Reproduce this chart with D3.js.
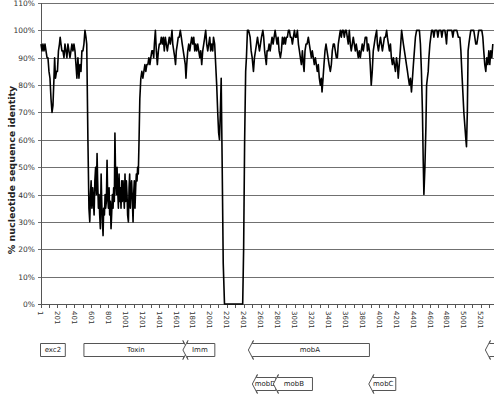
<!DOCTYPE html>
<html>
<head>
<meta charset="utf-8">
<script src="https://cdn.jsdelivr.net/npm/d3@7"></script>
<style>
  body { margin: 0; background: #fff; }
  text { font-family: "DejaVu Sans", Verdana, sans-serif; }
</style>
</head>
<body>
<div id="chart"></div>
<script>
// window position (nt) and % identity
const positions = [
  7, 19, 30, 42, 54, 66, 78, 89, 101, 113, 125, 137, 148, 160, 168, 178, 190, 201, 213, 225,
  233, 243, 254, 266, 278, 290, 302, 313, 325, 337, 349, 361, 372, 384, 396, 408, 420, 431, 443, 455,
  467, 479, 490, 502, 514, 526, 538, 547, 561, 573, 583, 591, 599, 608, 618, 626, 634, 643, 652, 661,
  669, 676, 685, 693, 700, 708, 717, 724, 732, 740, 747, 756, 764, 771, 779, 787, 794, 803, 811, 818,
  826, 834, 841, 850, 858, 865, 873, 880, 889, 897, 905, 912, 921, 929, 936, 944, 952, 960, 968, 976,
  983, 991, 999, 1007, 1015, 1023, 1030, 1039, 1047, 1054, 1062, 1070, 1077, 1086, 1094, 1101, 1109, 1117, 1125, 1133,
  1141, 1148, 1156, 1165, 1174, 1186, 1198, 1210, 1222, 1234, 1245, 1257, 1269, 1281, 1293, 1304, 1316, 1328, 1338, 1346,
  1358, 1369, 1381, 1393, 1404, 1416, 1428, 1440, 1452, 1463, 1475, 1487, 1499, 1510, 1522, 1534, 1546, 1554, 1563, 1575,
  1587, 1596, 1605, 1617, 1628, 1640, 1652, 1664, 1675, 1687, 1699, 1711, 1719, 1728, 1740, 1752, 1764, 1775, 1787, 1799,
  1811, 1823, 1834, 1846, 1858, 1870, 1882, 1893, 1905, 1917, 1929, 1941, 1952, 1964, 1976, 1988, 2000, 2011, 2023, 2035,
  2044, 2058, 2070, 2082, 2094, 2105, 2115, 2125, 2135, 2147, 2159, 2174, 2280, 2389, 2400, 2412, 2424, 2433, 2445, 2459,
  2477, 2489, 2501, 2516, 2528, 2540, 2552, 2564, 2575, 2587, 2599, 2611, 2627, 2637, 2648, 2658, 2668, 2677, 2689, 2701,
  2713, 2724, 2736, 2748, 2760, 2772, 2783, 2795, 2807, 2819, 2834, 2846, 2858, 2870, 2882, 2893, 2905, 2917, 2929, 2941,
  2952, 2964, 2976, 2988, 3000, 3011, 3023, 3035, 3047, 3059, 3070, 3082, 3094, 3106, 3114, 3125, 3137, 3149, 3164, 3176,
  3188, 3200, 3211, 3223, 3235, 3247, 3259, 3270, 3282, 3294, 3306, 3317, 3326, 3338, 3349, 3361, 3373, 3385, 3397, 3409,
  3424, 3436, 3447, 3459, 3471, 3483, 3495, 3507, 3518, 3530, 3542, 3554, 3565, 3577, 3589, 3601, 3613, 3624, 3636, 3648,
  3660, 3671, 3683, 3695, 3707, 3719, 3730, 3742, 3754, 3766, 3778, 3789, 3801, 3813, 3825, 3837, 3853, 3862, 3874, 3886,
  3895, 3907, 3919, 3931, 3943, 3955, 3971, 3980, 3992, 4004, 4016, 4027, 4039, 4051, 4063, 4075, 4089, 4098, 4110, 4122,
  4134, 4145, 4157, 4169, 4181, 4193, 4205, 4216, 4226, 4238, 4250, 4266, 4276, 4287, 4299, 4311, 4323, 4335, 4346, 4358,
  4370, 4382, 4394, 4405, 4417, 4429, 4443, 4459, 4476, 4488, 4500, 4512, 4521, 4529, 4541, 4553, 4561, 4570, 4580, 4588,
  4600, 4620, 4635, 4647, 4659, 4683, 4694, 4706, 4730, 4741, 4753, 4777, 4788, 4796, 4806, 4836, 4859, 4871, 4883, 4918,
  4936, 4954, 4966, 4977, 4989, 5001, 5013, 5025, 5032, 5042, 5051, 5060, 5071, 5083, 5118, 5130, 5142, 5154, 5166, 5177,
  5213, 5225, 5236, 5248, 5260, 5272, 5284, 5296, 5307, 5319, 5331, 5343
];
const identity = [
  95, 92.5, 95, 92.5, 95, 92.5, 90, 90, 85, 82.5, 75, 70, 72.5, 82.5, 90, 82.5, 85, 85, 92.5, 95,
  97.5, 95, 92.5, 92.5, 90, 95, 92.5, 90, 95, 92.5, 90, 92.5, 95, 92.5, 95, 92.5, 87.5, 82.5, 90, 82.5,
  87.5, 85, 92.5, 92.5, 95, 100, 97.5, 95, 60, 35, 30, 40, 45, 35, 42.5, 37.5, 32.5, 45, 50, 40,
  55, 45, 35, 40, 32.5, 27.5, 47.5, 37.5, 30, 25, 35, 32.5, 40, 35, 37.5, 52.5, 40, 35, 42.5, 32.5,
  37.5, 27.5, 32.5, 40, 35, 42.5, 37.5, 62.5, 45, 40, 50, 42.5, 35, 47.5, 37.5, 42.5, 35, 45, 37.5, 45,
  40, 35, 47.5, 37.5, 45, 40, 32.5, 30, 42.5, 47.5, 35, 42.5, 45, 37.5, 30, 40, 45, 35, 42.5, 47.5,
  45, 50, 47.5, 60, 75, 82.5, 85, 82.5, 85, 87.5, 85, 87.5, 87.5, 90, 87.5, 90, 92.5, 92.5, 90, 95,
  100, 92.5, 87.5, 92.5, 95, 95, 97.5, 95, 97.5, 92.5, 97.5, 95, 92.5, 95, 97.5, 95, 97.5, 100, 95, 92.5,
  90, 87.5, 92.5, 95, 97.5, 97.5, 100, 97.5, 95, 92.5, 90, 87.5, 82.5, 87.5, 92.5, 95, 92.5, 95, 97.5, 95,
  97.5, 92.5, 95, 92.5, 95, 92.5, 90, 92.5, 87.5, 92.5, 95, 97.5, 100, 95, 92.5, 95, 97.5, 92.5, 95, 92.5,
  97.5, 95, 87.5, 80, 70, 62.5, 60, 70, 82.5, 50, 15, 0, 0, 0, 20, 60, 85, 90, 100, 100,
  97.5, 92.5, 90, 85, 90, 92.5, 95, 97.5, 95, 92.5, 95, 97.5, 100, 97.5, 92.5, 90, 87.5, 92.5, 92.5, 95,
  92.5, 95, 97.5, 95, 97.5, 100, 97.5, 95, 97.5, 92.5, 90, 92.5, 97.5, 95, 97.5, 95, 97.5, 97.5, 100, 100,
  97.5, 97.5, 95, 97.5, 100, 97.5, 97.5, 100, 95, 92.5, 90, 87.5, 92.5, 87.5, 85, 92.5, 95, 95, 97.5, 95,
  92.5, 90, 92.5, 90, 87.5, 90, 87.5, 85, 87.5, 82.5, 80, 82.5, 77.5, 82.5, 87.5, 92.5, 95, 92.5, 90, 87.5,
  85, 87.5, 92.5, 95, 95, 92.5, 90, 90, 95, 97.5, 100, 97.5, 100, 100, 97.5, 100, 100, 97.5, 95, 100,
  95, 92.5, 95, 97.5, 95, 92.5, 95, 92.5, 90, 92.5, 90, 92.5, 95, 92.5, 95, 97.5, 97.5, 92.5, 95, 92.5,
  87.5, 80, 85, 92.5, 95, 97.5, 100, 95, 92.5, 95, 97.5, 95, 92.5, 95, 97.5, 97.5, 100, 97.5, 95, 92.5,
  95, 90, 87.5, 90, 87.5, 85, 90, 87.5, 82.5, 87.5, 92.5, 100, 97.5, 95, 92.5, 90, 87.5, 85, 82.5, 80,
  82.5, 77.5, 82.5, 87.5, 92.5, 97.5, 100, 100, 100, 95, 85, 70, 52.5, 40, 50, 65, 80, 82.5, 85, 90,
  95, 100, 100, 97.5, 100, 100, 97.5, 100, 100, 97.5, 100, 100, 97.5, 95, 100, 100, 100, 97.5, 100, 100,
  97.5, 97.5, 92.5, 85, 77.5, 70, 65, 60, 57.5, 70, 92.5, 95, 97.5, 100, 100, 97.5, 95, 95, 97.5, 100,
  100, 97.5, 92.5, 87.5, 85, 90, 87.5, 92.5, 87.5, 92.5, 90, 95
];

const yTicks = [0, 10, 20, 30, 40, 50, 60, 70, 80, 90, 100, 110];
const xLabels = [1, 201, 401, 601, 801, 1001, 1201, 1401, 1601, 1801, 2001, 2201, 2401, 2601,
  2801, 3001, 3201, 3401, 3601, 3801, 4001, 4201, 4401, 4601, 4801, 5001, 5201];

// genes drawn under the axis
const geneNames  = ["exc2", "Toxin", "Imm", "mobA", "", "mobD", "mobB", "mobC"];
const geneStart  = [1, 514, 1683, 2456, 5255, 2503, 2751, 3878];
const geneEnd    = [294, 1742, 2060, 3886, 5500, 2781, 3213, 4197];
const geneStrand = [0, 1, -1, -1, -1, -1, -1, -1];
const geneRow    = [0, 0, 0, 0, 0, 1, 1, 1];

const width = 494, height = 394;

const svg = d3.select("#chart").append("svg")
    .attr("width", width)
    .attr("height", height);

const x = d3.scaleLinear().domain([1, 5357]).range([40.5, 494]);
const y = d3.scaleLinear().domain([0, 110]).range([304, 3]);

// gridlines + y ticks
svg.append("g").selectAll("line")
    .data(yTicks)
    .enter().append("line")
    .attr("x1", 38).attr("x2", width)
    .attr("y1", d => Math.round(y(d)) + 0.5)
    .attr("y2", d => Math.round(y(d)) + 0.5)
    .attr("stroke", d => d === 0 ? "#555" : "#707070")
    .attr("stroke-width", 1);

svg.append("g").selectAll("text")
    .data(yTicks)
    .enter().append("text")
    .attr("x", 35)
    .attr("y", d => Math.round(y(d)) + 3)
    .attr("text-anchor", "end")
    .attr("fill", "#333")
    .style("font-size", "7.5px")
    .text(d => d + "%");

// y axis line
svg.append("line")
    .attr("x1", 41.5).attr("x2", 41.5)
    .attr("y1", Math.round(y(110))).attr("y2", Math.round(y(0)) + 1)
    .attr("stroke", "#555");

// x ticks every 100, labels every 200
const xMinor = xLabels.flatMap(v => [v, v + 100]);
svg.append("g").selectAll("line")
    .data(xMinor)
    .enter().append("line")
    .attr("x1", d => Math.round(x(d)) + 0.5)
    .attr("x2", d => Math.round(x(d)) + 0.5)
    .attr("y1", Math.round(y(0)))
    .attr("y2", Math.round(y(0)) + 4)
    .attr("stroke", "#555");

svg.append("g").selectAll("text")
    .data(xLabels)
    .enter().append("text")
    .attr("transform", d => `translate(${x(d)},${y(0) + 7}) rotate(90)`)
    .attr("dy", "0.35em")
    .attr("fill", "#333")
    .style("font-size", "7px")
    .text(d => d);

// y title
svg.append("text")
    .attr("transform", "translate(12,170) rotate(-90)")
    .attr("text-anchor", "middle")
    .attr("dy", "0.35em")
    .attr("fill", "#222")
    .style("font-size", "9.5px")
    .style("font-weight", "bold")
    .text("% nucleotide sequence identity");

// identity line
const line = d3.line()
    .x((d, i) => x(positions[i]))
    .y(d => y(d));

svg.append("path")
    .datum(identity)
    .attr("d", line)
    .attr("fill", "none")
    .attr("stroke", "#000")
    .attr("stroke-width", 1.6)
    .attr("stroke-linejoin", "round");

// gene arrows
const rowTop = [343.5, 377.5], rowH = 13;
function genePoints(i) {
    const x0 = x(geneStart[i]), x1 = x(geneEnd[i]);
    const t = rowTop[geneRow[i]], b = t + rowH, m = t + rowH / 2;
    if (geneStrand[i] === 1) {
        return [[x0, t], [x1 - 4, t], [x1 - 5, t - 3], [x1, m], [x1 - 5, b + 3], [x1 - 4, b], [x0, b]];
    }
    if (geneStrand[i] === -1) {
        return [[x0, m], [x0 + 5, t - 3], [x0 + 4, t], [x1, t], [x1, b], [x0 + 4, b], [x0 + 5, b + 3]];
    }
    return [[x0, t], [x1, t], [x1, b], [x0, b]];
}

const genes = svg.append("g").selectAll("g")
    .data(geneNames)
    .enter().append("g");

genes.append("polygon")
    .attr("points", (d, i) => genePoints(i).map(p => p.join(",")).join(" "))
    .attr("fill", "#fff")
    .attr("stroke", "#555")
    .attr("stroke-width", 1);

genes.append("text")
    .attr("x", (d, i) => (x(geneStart[i]) + x(geneEnd[i])) / 2 + (geneStrand[i] === -1 ? 1 : 0))
    .attr("y", (d, i) => rowTop[geneRow[i]] + rowH / 2)
    .attr("dy", "0.35em")
    .attr("text-anchor", "middle")
    .attr("fill", "#222")
    .style("font-size", "7px")
    .text(d => d);
</script>
</body>
</html>
